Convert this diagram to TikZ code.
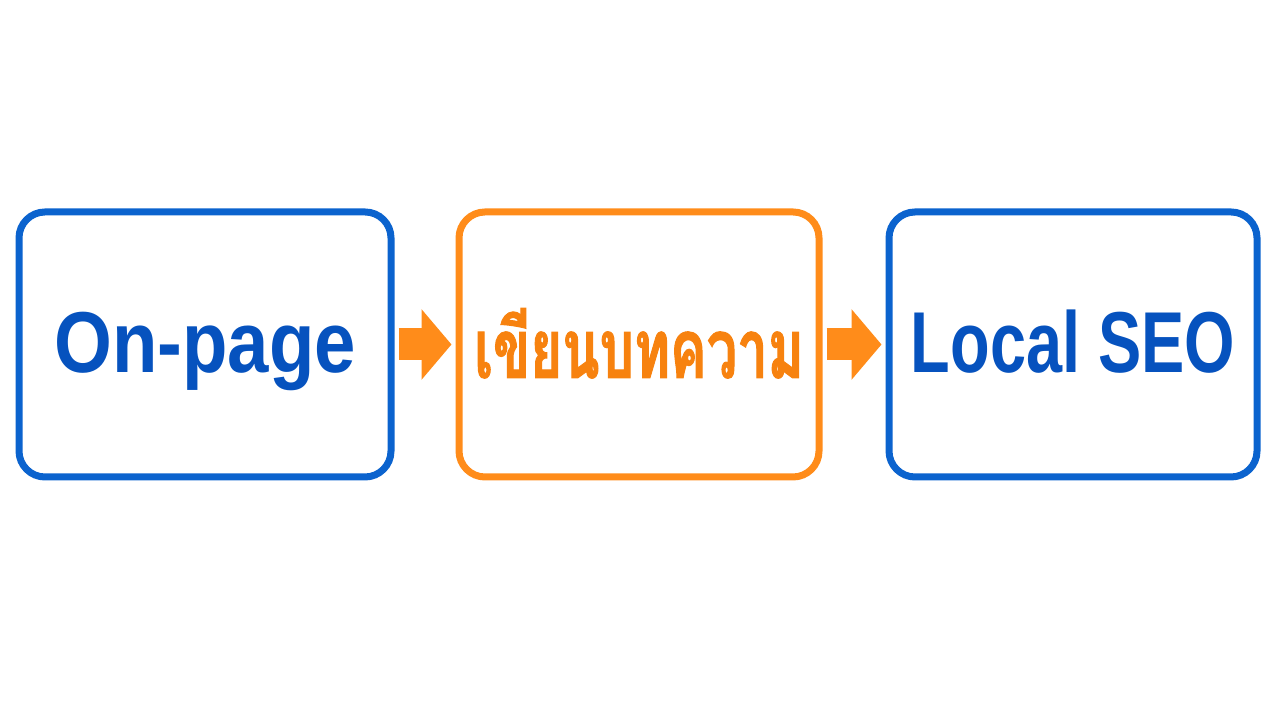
\documentclass[tikz,border=0pt]{standalone}
\usepackage{fontspec}
\setmainfont{Liberation Sans}[FakeStretch=0.86]
\newfontfamily\narrowfont{Liberation Sans}[FakeStretch=0.75]
\newfontfamily\thaifont[Script=Thai,FakeStretch=0.66,FakeBold=1.2]{Loma}
\usetikzlibrary{arrows.meta}
\definecolor{boxblue}{HTML}{0B63CE}
\definecolor{textblue}{HTML}{0652BE}
\definecolor{boxorange}{HTML}{FF8C1A}
\definecolor{textorange}{HTML}{F7820F}
\tikzset{
  stagebox/.style={draw=boxblue, line width=0.07cm, rounded corners=0.26cm,
    minimum height=2.65cm, text depth=0pt, text height=0.57cm,
    font=\fontsize{24.6}{28}\selectfont\bfseries, text=textblue},
  flowarrow/.style={line width=0.32cm, boxorange,
    -{Triangle[length=0.3cm,width=0.69cm]}}
}
\begin{document}
\begin{tikzpicture}
    \useasboundingbox (0,0) rectangle (12.8,7.2);
    \node[stagebox, minimum width=3.72cm] (onpage) at (2.05,3.755) {On-page};
    \node[stagebox, minimum width=3.60cm, draw=boxorange, text=textorange,
          text height=0.67cm, font=\thaifont\fontsize{23.5}{28}\selectfont\bfseries]
          (article) at (6.39,3.755) {เขียนบทความ};
    \node[stagebox, minimum width=3.68cm, font=\narrowfont\fontsize{24.6}{28}\selectfont\bfseries]
          (localseo) at (10.73,3.755) {Local SEO};

    \draw[flowarrow] ([xshift=0.04cm]onpage.east) -- ([xshift=-0.04cm]article.west);
    \draw[flowarrow] ([xshift=0.04cm]article.east) -- ([xshift=-0.04cm]localseo.west);
\end{tikzpicture}
\end{document}
